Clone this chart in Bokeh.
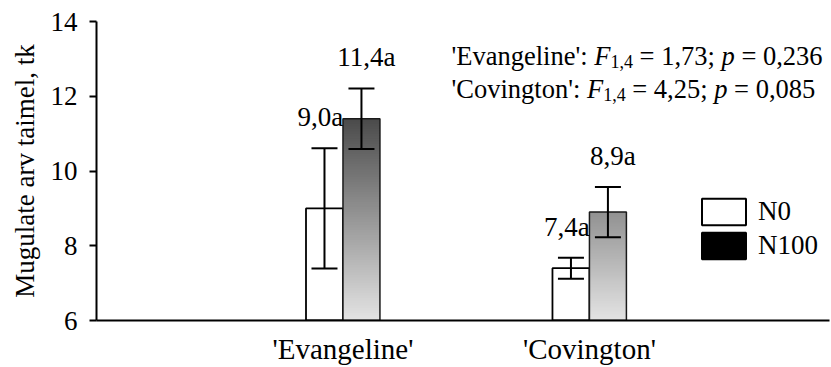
import numpy as np
from bokeh.plotting import figure
from bokeh.models import (ColumnDataSource, Whisker, TeeHead, Label, Legend,
                          LegendItem, FixedTicker, Range1d)
from bokeh.core.properties import value
from bokeh.embed import file_html
from bokeh.resources import INLINE

# ---------------- data ----------------
cultivars = ["'Evangeline'", "'Covington'"]
treatments = ["N0", "N100"]
n0_mean = [9.0, 7.4]
n0_err = [1.61, 0.28]
n100_mean = [11.4, 8.9]
n100_err = [0.81, 0.67]
n0_labels = ["9,0a", "7,4a"]
n100_labels = ["11,4a", "8,9a"]
f_values = ["1,73", "4,25"]
p_values = ["0,236", "0,085"]
y_ticks = [6, 8, 10, 12, 14]
y_label = "Mugulate arv taimel, tk"

FONT = "Liberation Serif"
FS = 27

# ---------------- figure ----------------
p = figure(width=831, height=367, output_backend="svg", toolbar_location=None,
           x_range=Range1d(0, 2.974), y_range=Range1d(y_ticks[0], y_ticks[-1]),
           min_border_left=96, min_border_right=2, min_border_top=21,
           min_border_bottom=44)
p.outline_line_color = None
p.grid.visible = False
p.background_fill_color = "white"

xs = np.arange(1, len(cultivars) + 1).astype(float)
w = 0.15
y0 = y_ticks[0]

# N0 bars (white)
p.quad(left=xs - w, right=xs, bottom=y0, top=n0_mean,
       fill_color="white", line_color="black", line_width=1.8)

# N100 bars (vertical gray gradient)
nstrip = 80
sl, sr, sb, st, sc = [], [], [], [], []
for xc, m in zip(xs, n100_mean):
    edges = np.linspace(y0, m, nstrip + 1)
    step = (m - y0) / nstrip
    for i in range(nstrip):
        b, t = edges[i], edges[i + 1]
        mid = (b + t) / 2
        g = int(round(np.clip(228 - (mid - y0) * 28.5, 0, 255)))
        sl.append(xc); sr.append(xc + w); sb.append(b)
        st.append(min(t + step * 0.6, m)); sc.append("#%02x%02x%02x" % (g, g, g))
p.quad(left=sl, right=sr, bottom=sb, top=st, fill_color=sc, line_color=None)
p.quad(left=xs, right=xs + w, bottom=y0, top=n100_mean,
       fill_color=None, line_color="#1a1a1a", line_width=1.5)

# error bars
err_src = ColumnDataSource(dict(
    x=list(xs - w / 2) + list(xs + w / 2),
    upper=[m + e for m, e in zip(n0_mean, n0_err)] + [m + e for m, e in zip(n100_mean, n100_err)],
    lower=[m - e for m, e in zip(n0_mean, n0_err)] + [m - e for m, e in zip(n100_mean, n100_err)],
))
p.add_layout(Whisker(base="x", upper="upper", lower="lower", source=err_src,
                     level="annotation", line_width=2, line_color="black",
                     upper_head=TeeHead(size=26, line_width=2, line_color="black"),
                     lower_head=TeeHead(size=26, line_width=2, line_color="black")))

# value labels
lab_src = ColumnDataSource(dict(
    x=list(xs - w / 2) + list(xs + w / 2),
    y=err_src.data["upper"],
    text=n0_labels + n100_labels,
    xo=[-4] * len(xs) + [5] * len(xs),
))
p.text(x="x", y="y", text="text", x_offset="xo", y_offset=-31, source=lab_src,
       text_align="center", text_baseline="alphabetic",
       text_font=value(FONT), text_font_size=f"{FS}px", text_color="black")

# ---------------- axes ----------------
p.yaxis.ticker = FixedTicker(ticks=y_ticks)
p.yaxis.axis_label = y_label
p.yaxis.axis_label_text_font = FONT
p.yaxis.axis_label_text_font_style = "normal"
p.yaxis.axis_label_text_font_size = f"{FS}px"
p.yaxis.axis_label_text_color = "black"
p.yaxis.axis_label_standoff = 8
p.yaxis.major_label_text_font = FONT
p.yaxis.major_label_text_font_size = f"{FS}px"
p.yaxis.major_label_text_color = "black"
p.yaxis.major_label_standoff = 12
p.yaxis.major_tick_in = 0
p.yaxis.major_tick_out = 7
p.yaxis.minor_tick_in = 0
p.yaxis.minor_tick_out = 0
p.yaxis.axis_line_width = 2
p.yaxis.major_tick_line_width = 2
p.yaxis.axis_line_color = "black"
p.yaxis.major_tick_line_color = "black"

p.xaxis.ticker = FixedTicker(ticks=list(xs))
p.xaxis.major_label_overrides = {float(x): c for x, c in zip(xs, cultivars)}
p.xaxis.major_label_text_font = FONT
p.xaxis.major_label_text_font_size = "29px"
p.xaxis.major_label_text_color = "black"
p.xaxis.major_label_standoff = 12
p.xaxis.major_tick_in = 0
p.xaxis.major_tick_out = 0
p.xaxis.minor_tick_in = 0
p.xaxis.minor_tick_out = 0
p.xaxis.axis_line_width = 2
p.xaxis.axis_line_color = "black"

# ---------------- statistics text ----------------
ADV_REG = {" ": 250, "'": 180, "E": 611, "v": 500, "a": 444, "n": 500, "g": 500,
           "e": 444, "l": 278, "i": 278, ":": 278, "C": 667, "o": 500, "t": 278,
           ",": 250, ";": 278, "=": 564}
ADV_IT = {"F": 611, "p": 500}


def tw(s, size, italic=False):
    tbl = ADV_IT if italic else ADV_REG
    return sum(tbl.get(ch, 500) for ch in s) / 1000.0 * size


AFS = 26.5
SUB = 18
space = tw(" ", AFS)
line_x0 = 355
line_y = [265, 232]
for name, fv, pv, yb in zip(cultivars, f_values, p_values, line_y):
    pieces = [
        (f"{name}:", "normal", AFS, 0, space),
        ("F", "italic", AFS, 0, 0),
        ("1,4", "normal", SUB, -6, space),
        (f"= {fv};", "normal", AFS, 0, space),
        ("p", "italic", AFS, 0, space),
        (f"= {pv}", "normal", AFS, 0, 0),
    ]
    x = line_x0
    for txt, style, size, dy, gap in pieces:
        p.add_layout(Label(x=x, y=yb + dy, x_units="screen", y_units="screen",
                           text=txt, text_font=FONT, text_font_style=style,
                           text_font_size=f"{size}px", text_baseline="alphabetic",
                           text_align="left", text_color="black"))
        x += tw(txt, size, style == "italic") + gap

# ---------------- legend ----------------
nan = [float("nan")]
r_n0 = p.quad(left=nan, right=nan, bottom=nan, top=nan, fill_color="white",
              line_color="black", line_width=2)
r_n100 = p.quad(left=nan, right=nan, bottom=nan, top=nan, fill_color="black",
                line_color="black", line_width=2)
legend = Legend(items=[LegendItem(label=treatments[0], renderers=[r_n0]),
                       LegendItem(label=treatments[1], renderers=[r_n100])],
                location=(600, 58), orientation="vertical",
                glyph_width=55, glyph_height=33, label_standoff=7, spacing=1,
                padding=0, margin=0, border_line_color=None,
                background_fill_alpha=0, label_text_font=FONT,
                label_text_color="black",
                label_text_font_size=f"{FS}px", label_height=33)
p.add_layout(legend, "center")

open("out.html", "w").write(file_html(p, INLINE))
